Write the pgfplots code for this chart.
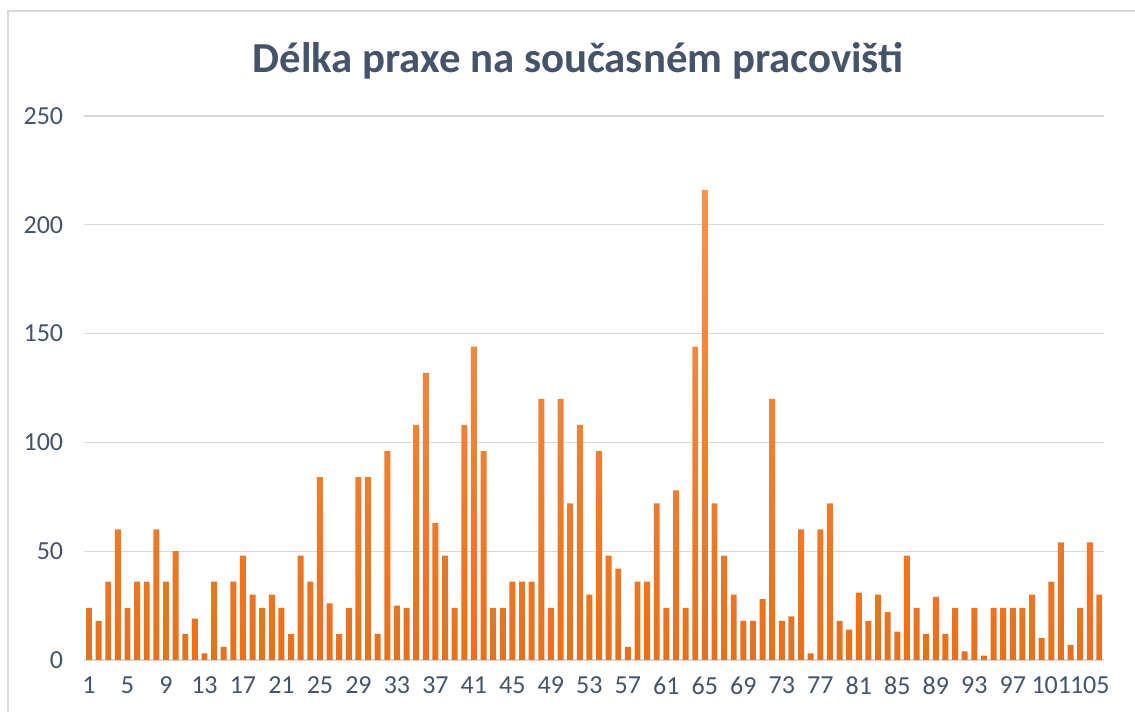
\documentclass[border=0pt]{standalone}
\usepackage{fontspec}
\setmainfont{Carlito}
\usepackage{pgfplots}
\pgfplotsset{compat=1.18}
\usepackage{pgfplotstable}
\definecolor{txt}{HTML}{44546A}
\definecolor{gridc}{HTML}{D9D9D9}
\definecolor{bartop}{HTML}{F4944F}
\definecolor{barbot}{HTML}{E8701C}
\pgfplotstableread{
x y
1 24
2 18
3 36
4 60
5 24
6 36
7 36
8 60
9 36
10 50
11 12
12 19
13 3
14 36
15 6
16 36
17 48
18 30
19 24
20 30
21 24
22 12
23 48
24 36
25 84
26 26
27 12
28 24
29 84
30 84
31 12
32 96
33 25
34 24
35 108
36 132
37 63
38 48
39 24
40 108
41 144
42 96
43 24
44 24
45 36
46 36
47 36
48 120
49 24
50 120
51 72
52 108
53 30
54 96
55 48
56 42
57 6
58 36
59 36
60 72
61 24
62 78
63 24
64 144
65 216
66 72
67 48
68 30
69 18
70 18
71 28
72 120
73 18
74 20
75 60
76 3
77 60
78 72
79 18
80 14
81 31
82 18
83 30
84 22
85 13
86 48
87 24
88 12
89 29
90 12
91 24
92 4
93 24
94 2
95 24
96 24
97 24
98 24
99 30
100 10
101 36
102 54
103 7
104 24
105 54
106 30
}\datatable
\begin{document}
\begin{tikzpicture}
\useasboundingbox (0,0) rectangle (567.5pt,356pt);
\draw[gridc, line width=0.8pt] (4pt,0) -- (4pt,350.5pt) -- (567.5pt,350.5pt);
\node[anchor=base, font=\fontsize{21.4}{25}\selectfont\bfseries, text=txt] at (289pt,319.5pt) {Délka praxe na současném pracovišti};
\begin{axis}[
  at={(42.1pt,26pt)}, anchor=south west,
  scale only axis, width=510pt, height=272pt,
  xmin=0.5, xmax=106.5, ymin=0, ymax=250,
  axis x line*=bottom, axis y line*=left,
  x axis line style={gridc, line width=0.9pt, -},
  y axis line style={draw=none, -},
  ytick={0,50,...,250},
  xtick={1,5,...,105},
  ymajorgrids, grid style={gridc, line width=0.6pt},
  major tick length=0pt,
  tick label style={font=\fontsize{13}{16}\selectfont, text=txt},
  /pgf/number format/assume math mode=true,
  xticklabel style={yshift=-5pt},
  yticklabel style={anchor=east, xshift=-7pt},
  clip=false,
]
\addplot[ybar, bar width=0.62, draw=none, top color=bartop, bottom color=barbot] table[x=x,y=y] {\datatable};
\end{axis}
\end{tikzpicture}
\end{document}
